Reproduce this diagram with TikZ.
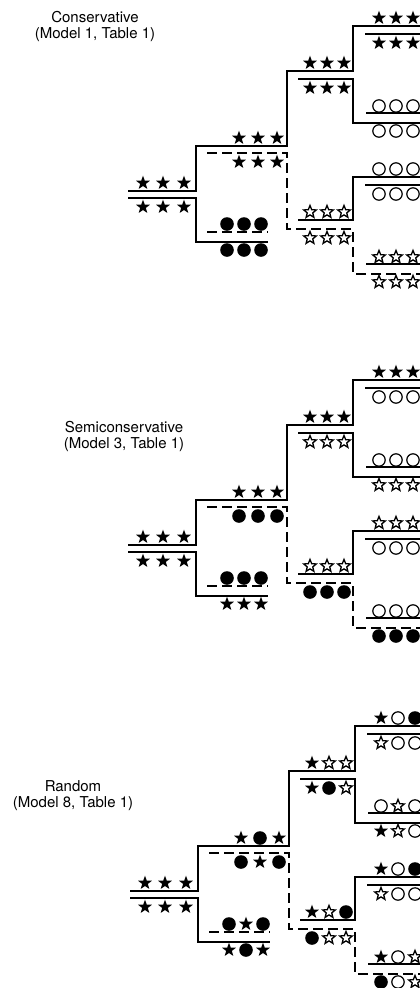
\documentclass[tikz,border=0pt]{standalone}
\usepackage{fontspec}
\setmainfont{TeX Gyre Heros}
\tikzset{
  strand/.style={line width=1.8pt, line cap=butt, line join=miter},
  newstrand/.style={strand, dash pattern=on 10pt off 5pt},
  ttl/.style={font=\fontsize{15}{16}\selectfont, align=center, inner sep=0pt}
}
\newcommand\SF[2]{\begin{scope}[shift={(#1,#2)}]\fill (-90:7.3) -- (-54:3.0) -- (-18:7.3) -- (18:3.0) -- (54:7.3) -- (90:3.0) -- (126:7.3) -- (162:3.0) -- (198:7.3) -- (234:3.0) -- cycle;\end{scope}}
\newcommand\SO[2]{\begin{scope}[shift={(#1,#2)}]\draw[line width=1.3pt, line join=miter] (-90:6.6) -- (-54:2.9) -- (-18:6.6) -- (18:2.9) -- (54:6.6) -- (90:2.9) -- (126:6.6) -- (162:2.9) -- (198:6.6) -- (234:2.9) -- cycle;\end{scope}}
\newcommand\SB[2]{\fill (#1,#2) circle[radius=6.8];}
\newcommand\SW[2]{\draw[line width=1.2pt] (#1,#2) circle[radius=6.2];}
\newcommand\Row[7]{\csname S#5\endcsname{#2}{#1}\csname S#6\endcsname{#3}{#1}\csname S#7\endcsname{#4}{#1}}
\newcommand\GA[6]{\Row{-8}{143}{163}{184}{#1}{#2}{#3}\Row{16}{143}{163}{184}{#4}{#5}{#6}}
\newcommand\GBt[6]{\Row{-53}{239}{258}{277}{#1}{#2}{#3}\Row{-29}{239}{258}{277}{#4}{#5}{#6}}
\newcommand\GBl[6]{\Row{33}{227}{244}{261}{#1}{#2}{#3}\Row{59}{227}{244}{261}{#4}{#5}{#6}}
\newcommand\GCt[6]{\Row{-128}{310}{327}{344}{#1}{#2}{#3}\Row{-103}{310}{327}{344}{#4}{#5}{#6}}
\newcommand\GCl[6]{\Row{21}{310}{327}{344}{#1}{#2}{#3}\Row{47}{310}{327}{344}{#4}{#5}{#6}}
\newcommand\GD[7]{\Row{#1}{379}{396}{413}{#2}{#3}{#4}\Row{#1+25}{379}{396}{413}{#5}{#6}{#7}}
\newcommand\Strands{%
  \draw[strand] (128,0) -- (196,0) -- (196,-45) -- (287,-45) -- (287,-120) -- (353,-120) -- (353,-165) -- (425,-165);
  \draw[strand] (128,7) -- (196,7) -- (196,51) -- (268,51);
  \draw[newstrand] (207,-38) -- (287,-38) -- (287,38) -- (353,38) -- (353,83) -- (425,83);
  \draw[strand] (298,-112) -- (353,-112) -- (353,-68) -- (425,-68);
  \draw[strand] (298,29) -- (353,29) -- (353,-14) -- (425,-14);
  \draw[newstrand] (207,41) -- (268,41);
  \draw[strand] (365,-157) -- (425,-157);
  \draw[strand] (366,-78) -- (425,-78);
  \draw[strand] (365,-6) -- (425,-6);
  \draw[strand] (366,73) -- (425,73);
}
\begin{document}
\begin{tikzpicture}[x=1pt,y=-1pt]
\useasboundingbox (0,0) rectangle (420,988);
\fill[white] (0,0) rectangle (420,988);
% Panel 1
\node[ttl] (t1) at (95,26) {Conservative\\(Model 1, Table 1)};
\begin{scope}[shift={(0,191)}]
  \Strands
  \GA FFFFFF
  \GBt FFFFFF
  \GBl BBBBBB
  \GCt FFFFFF
  \GCl OOOOOO
  \GD{-173}FFFFFF
  \GD{-85}WWWWWW
  \GD{-22}WWWWWW
  \GD{66}OOOOOO
\end{scope}
% Panel 2
\node[ttl] (t2) at (124,436) {Semiconservative\\(Model 3, Table 1)};
\begin{scope}[shift={(0,545)}]
  \Strands
  \GA FFFFFF
  \GBt FFFBBB
  \GBl BBBFFF
  \GCt FFFOOO
  \GCl OOOBBB
  \GD{-173}FFFWWW
  \GD{-85}WWWOOO
  \GD{-22}OOOWWW
  \GD{66}WWWBBB
\end{scope}
% Panel 3
\node[ttl] (t3) at (73,796) {Random\\(Model 8, Table 1)};
\begin{scope}[shift={(2,891)}]
  \Strands
  \GA FFFFFF
  \GBt FBFBFB
  \GBl BFBFBF
  \GCt FOOFBO
  \GCl FOBBOO
  \GD{-173}FWBOWW
  \GD{-85}WOWFOW
  \GD{-22}FWBOWW
  \GD{66}FWOBWO
\end{scope}
\end{tikzpicture}
\end{document}
